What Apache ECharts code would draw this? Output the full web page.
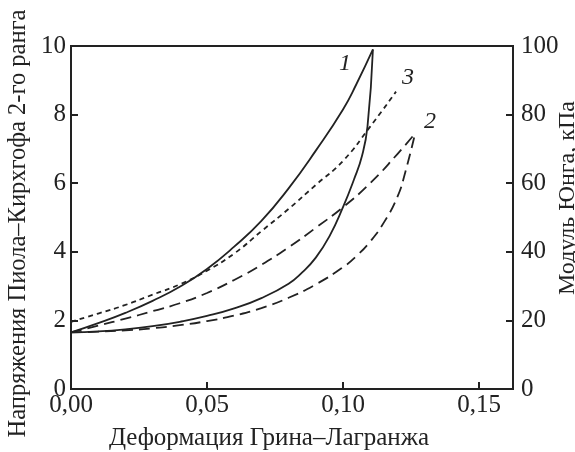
<!DOCTYPE html>
<html>
<head>
<meta charset="utf-8">
<script src="https://cdn.jsdelivr.net/npm/echarts@6/dist/echarts.min.js"></script>
<style>html,body{margin:0;padding:0;background:#fff}#c{width:575px;height:452px}</style>
</head>
<body>
<div id="c"></div>
<script>
// Curve 1 (solid) loading / unloading branches
var c1LoadX = [0, 0.01, 0.02, 0.03, 0.04, 0.05, 0.06, 0.07, 0.08, 0.09, 0.10, 0.105, 0.111];
var c1LoadY = [1.65, 1.92, 2.22, 2.57, 2.98, 3.5, 4.15, 4.9, 5.85, 6.95, 8.15, 8.9, 9.9];
var c1UnlX = [0, 0.01, 0.02, 0.03, 0.04, 0.05, 0.06, 0.07, 0.08, 0.085, 0.09, 0.095, 0.10, 0.104, 0.107, 0.109, 0.111];
var c1UnlY = [1.65, 1.68, 1.74, 1.83, 1.96, 2.13, 2.35, 2.65, 3.07, 3.4, 3.83, 4.45, 5.3, 6.1, 6.8, 7.65, 9.9];
// Curve 2 (long dashes) loading / unloading branches
var c2LoadX = [0, 0.01, 0.02, 0.03, 0.04, 0.05, 0.06, 0.07, 0.08, 0.09, 0.10, 0.11, 0.12, 0.1265];
var c2LoadY = [1.65, 1.85, 2.05, 2.27, 2.5, 2.8, 3.18, 3.62, 4.13, 4.7, 5.3, 6.0, 6.85, 7.45];
var c2UnlX = [0, 0.01, 0.02, 0.03, 0.04, 0.05, 0.06, 0.07, 0.08, 0.09, 0.10, 0.105, 0.11, 0.115, 0.12, 0.123, 0.1265];
var c2UnlY = [1.65, 1.67, 1.71, 1.77, 1.86, 1.98, 2.14, 2.36, 2.66, 3.05, 3.55, 3.88, 4.3, 4.85, 5.6, 6.35, 7.45];
// Curve 3 (short dashes), Young's modulus, kPa (right axis)
var c3X = [0, 0.01, 0.02, 0.03, 0.04, 0.05, 0.06, 0.07, 0.08, 0.09, 0.10, 0.11, 0.1195];
var c3Y = [19.6, 22, 24.5, 27.5, 30.5, 34.5, 39.5, 46, 52.5, 59.5, 66.5, 76.5, 86.7];

var xTicks = [0, 0.05, 0.10, 0.15];
var xTickLabels = ['0,00', '0,05', '0,10', '0,15'];
var yLeftTicks = [0, 2, 4, 6, 8, 10];
var yRightTicks = [0, 20, 40, 60, 80, 100];

var xTitle = 'Деформация Грина–Лагранжа';
var yLeftTitle = 'Напряжения Пиола–Кирхгофа 2-го ранга';
var yRightTitle = 'Модуль Юнга, кПа';
var curveLabels = ['1', '2', '3'];

function pairs(xs, ys) { return xs.map(function (x, i) { return [x, ys[i]]; }); }

var FONT = 'Liberation Serif';
var chart = echarts.init(document.getElementById('c'), null, {renderer: 'canvas'});
var lineBase = {type: 'line', showSymbol: false, symbol: 'none', smooth: 0.5, animation: false};

function fmtX(v) {
  for (var i = 0; i < xTicks.length; i++) if (Math.abs(v - xTicks[i]) < 1e-9) return xTickLabels[i];
  return '';
}

chart.setOption({
  animation: false,
  grid: {left: 71, top: 46, right: 62, bottom: 63, containLabel: false, outerBoundsMode: 'none',
         show: true, borderColor: '#222', borderWidth: 2},
  xAxis: {
    type: 'value', min: 0, max: 0.1625, interval: 0.05,
    name: xTitle, nameLocation: 'middle', nameGap: 37, nameMoveOverlap: false,
    nameTextStyle: {fontFamily: FONT, fontSize: 25, color: '#222', padding: [0, 46, 0, 0]},
    axisLine: {show: true, lineStyle: {color: '#222', width: 2}},
    axisTick: {show: true, inside: true, length: 7, lineStyle: {color: '#222', width: 2}},
    axisLabel: {fontFamily: FONT, fontSize: 25, color: '#222', margin: 4, formatter: fmtX, showMaxLabel: false},
    splitLine: {show: false}
  },
  yAxis: [{
    type: 'value', min: yLeftTicks[0], max: yLeftTicks[yLeftTicks.length - 1], interval: 2,
    name: yLeftTitle, nameLocation: 'middle', nameGap: 40, nameRotate: 90, nameMoveOverlap: false,
    nameTextStyle: {fontFamily: FONT, fontSize: 24.5, color: '#222', padding: [0, 12, 0, 0]},
    axisLine: {show: true, lineStyle: {color: '#222', width: 2}},
    axisTick: {show: true, inside: true, length: 7, lineStyle: {color: '#222', width: 2}},
    axisLabel: {fontFamily: FONT, fontSize: 25, color: '#222', margin: 5},
    splitLine: {show: false}
  }, {
    type: 'value', position: 'right', min: yRightTicks[0], max: yRightTicks[yRightTicks.length - 1], interval: 20,
    name: yRightTitle, nameLocation: 'middle', nameGap: 43, nameRotate: 90, nameMoveOverlap: false,
    nameTextStyle: {fontFamily: FONT, fontSize: 24, color: '#222', padding: [0, 0, 0, 39]},
    axisLine: {show: true, lineStyle: {color: '#222', width: 2}},
    axisTick: {show: true, inside: true, length: 7, lineStyle: {color: '#222', width: 2}},
    axisLabel: {fontFamily: FONT, fontSize: 25, color: '#222', margin: 8},
    splitLine: {show: false}
  }],
  series: [
    Object.assign({}, lineBase, {name: '1a', data: pairs(c1LoadX, c1LoadY), lineStyle: {color: '#222', width: 1.8}}),
    Object.assign({}, lineBase, {name: '1b', data: pairs(c1UnlX, c1UnlY), lineStyle: {color: '#222', width: 1.8}}),
    Object.assign({}, lineBase, {name: '2a', data: pairs(c2LoadX, c2LoadY), lineStyle: {color: '#222', width: 1.8, type: [11, 6]}}),
    Object.assign({}, lineBase, {name: '2b', data: pairs(c2UnlX, c2UnlY), lineStyle: {color: '#222', width: 1.8, type: [11, 6]}}),
    Object.assign({}, lineBase, {name: '3', yAxisIndex: 1, data: pairs(c3X, c3Y), lineStyle: {color: '#222', width: 1.8, type: [5, 4]}})
  ],
  graphic: [
    {type: 'text', left: 339, top: 52, style: {text: curveLabels[0], fontFamily: FONT, fontStyle: 'italic', fontSize: 24, fill: '#222'}},
    {type: 'text', left: 424, top: 110, style: {text: curveLabels[1], fontFamily: FONT, fontStyle: 'italic', fontSize: 24, fill: '#222'}},
    {type: 'text', left: 402, top: 66, style: {text: curveLabels[2], fontFamily: FONT, fontStyle: 'italic', fontSize: 24, fill: '#222'}}
  ]
});
</script>
</body>
</html>
